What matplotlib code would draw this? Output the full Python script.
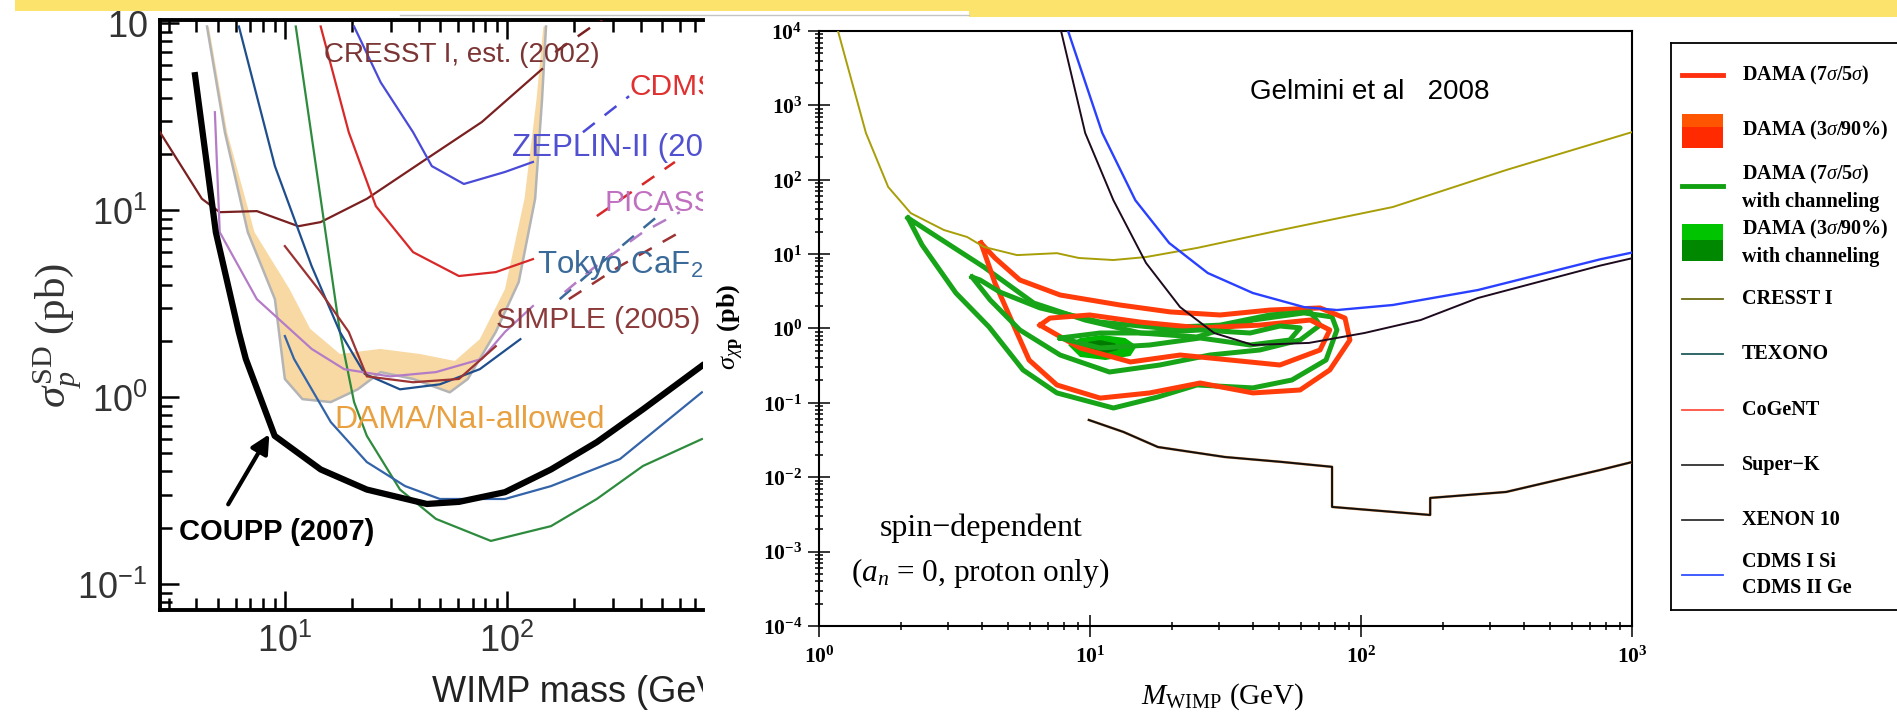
import numpy as np
import matplotlib.pyplot as plt
from matplotlib.patches import Rectangle
from matplotlib.lines import Line2D
from matplotlib.ticker import LogLocator, FuncFormatter, NullFormatter

plt.rcParams['mathtext.fontset'] = 'custom'
plt.rcParams['mathtext.rm'] = 'Liberation Sans'
plt.rcParams['mathtext.it'] = 'Liberation Serif:italic'
plt.rcParams['mathtext.bf'] = 'Liberation Serif:bold'

# ---------------- left panel (COUPP plot) ----------------
coupp_x = [3.94, 4.89, 6.2, 6.67, 9.0, 14.5, 23.4, 43.6, 60.8, 98, 158, 254, 410, 755]
coupp_y = [52.7, 7.6, 2.23, 1.6, 0.62, 0.41, 0.32, 0.268, 0.275, 0.31, 0.41, 0.574, 0.86, 1.47]

dama_out_x = [4.46, 5.37, 6.81, 9.02, 10.0, 12.0, 16.1, 21.3, 27.0, 37.8, 55.3, 66.7, 89.1, 113, 134, 144, 150]
dama_out_y = [96, 26.1, 7.62, 3.34, 1.25, 0.975, 0.94, 1.10, 1.36, 1.25, 1.06, 1.25, 2.23, 4.12, 11.5, 39.3, 96]
dama_in_x = [4.55, 5.5, 7.3, 10.5, 13.0, 17.7, 26.8, 40.6, 58.3, 75.5, 98, 120, 136, 146]
dama_in_y = [96, 26.1, 7.62, 3.78, 2.32, 1.70, 1.81, 1.70, 1.56, 2.04, 3.78, 11.5, 39.3, 96]

cresst_x = [2.74, 4.23, 5.09, 7.48, 11.5, 14.5, 23.4, 41.4, 77.1, 144]
cresst_y = [26.1, 11.5, 9.75, 9.88, 8.2, 8.63, 11.5, 18.1, 29.6, 56.8]
cresst_dash_x = [165, 300]
cresst_dash_y = [70, 115]

zeplin_x = [20.5, 27, 37.8, 45.9, 64, 98, 131]
zeplin_y = [96, 48.3, 26.1, 17.2, 13.8, 16, 18.1]
zeplin_dash_x = [220, 355]
zeplin_dash_y = [26.1, 40.7]

cdms_x = [14.5, 19.4, 25.7, 37.8, 60.8, 89.1, 131]
cdms_y = [96, 26.1, 10.5, 5.96, 4.44, 4.66, 5.47]
cdms_dash_x = [254, 571]
cdms_dash_y = [9.29, 18.1]

kims_x = [11.2, 17.7, 20.5, 23.4, 33, 47.9, 84.7, 158, 254, 410, 755]
kims_y = [96, 2.23, 0.94, 0.62, 0.32, 0.223, 0.17, 0.204, 0.285, 0.428, 0.596]

tokyo_x = [6.21, 9.02, 13.2, 17.7, 22.9, 33, 49.9, 75.5, 115]
tokyo_y = [96, 17.2, 5.02, 2.23, 1.33, 1.10, 1.17, 1.41, 2.04]
tokyo_dash_x = [173, 262, 489]
tokyo_dash_y = [3.34, 5.14, 9.5]

naiad_x = [10, 11, 16.1, 23.4, 34.8, 49.9, 98, 158, 323, 755]
naiad_y = [2.12, 1.6, 0.735, 0.449, 0.334, 0.285, 0.285, 0.334, 0.466, 1.06]

picasso_x = [4.84, 5.09, 7.48, 13.2, 18.5, 29.7, 47.9, 77.1, 98, 131]
picasso_y = [33.4, 7.62, 3.34, 1.81, 1.41, 1.29, 1.36, 1.6, 2.23, 3.07]
picasso_dash_x = [182, 242, 410, 601]
picasso_dash_y = [3.64, 4.84, 7.62, 9.75]

simple_x = [10, 14.5, 19.4, 23.4, 37.8, 60.8, 89.1]
simple_y = [6.42, 3.64, 2.23, 1.29, 1.2, 1.25, 1.87]
simple_dash_x = [190, 323, 601]
simple_dash_y = [3.34, 5.02, 7.62]

# ---------------- right panel (Gelmini et al 2008) ----------------
cresst1_x = [1.175, 1.49, 1.80, 2.18, 2.89, 3.52, 4.06, 5.38, 7.55, 9.1, 12.2, 16.1, 24.8, 50.7, 131, 343, 1000]
cresst1_y = [1e4, 425, 80, 35.6, 21.1, 17, 12.5, 9.7, 10.3, 8.87, 8.33, 9.14, 12.1, 21.1, 43, 135, 437]

cdms2_x = [8.3, 11.1, 14.7, 19.6, 27.2, 39.9, 61.6, 81.5, 131, 270, 762, 1000]
cdms2_y = [1e4, 425, 53, 14.1, 5.57, 3.0, 1.94, 1.77, 2.07, 3.29, 8.5, 10.5]

xenon_x = [7.82, 9.6, 12.2, 16.1, 21.5, 28.7, 39.9, 64.3, 103, 166, 270, 762, 1000]
xenon_y = [1e4, 425, 53, 7.6, 1.94, 0.87, 0.6, 0.64, 0.87, 1.3, 2.57, 7.0, 8.8]

superk_x = [9.9, 13.3, 17.8, 31.5, 50.7, 78.2, 78.2, 180, 180, 343, 762, 1000]
superk_y = [0.0589, 0.0406, 0.0255, 0.0187, 0.0161, 0.0138, 0.00399, 0.00311, 0.00527, 0.00634, 0.0125, 0.016]

g1_x = [2.13, 2.40, 3.20, 4.24, 5.66, 7.55, 12.2, 17.8, 24.8, 39.9, 55.6, 74.3, 81.5, 78.2, 61.6, 39.9, 24.8, 15.4, 9.59, 6.2, 4.06]
g1_y = [30.6, 13.3, 3.0, 1.05, 0.277, 0.136, 0.0853, 0.12, 0.174, 0.159, 0.203, 0.377, 0.955, 1.43, 1.62, 1.30, 0.769, 0.87, 1.30, 2.2, 6.7]
r1_x = [3.96, 4.46, 5.38, 5.96, 7.55, 10.9, 16.6, 25.5, 39.9, 59.6, 76.7, 91.0, 87.3, 70.6, 46.1, 30.2, 19.8, 12.9, 7.76, 5.51, 4.46]
r1_y = [14.1, 4.09, 0.87, 0.377, 0.174, 0.116, 0.136, 0.185, 0.136, 0.149, 0.277, 0.70, 1.38, 1.89, 1.77, 1.52, 1.67, 2.07, 2.82, 4.49, 8.87]
g2_x = [3.67, 4.28, 5.51, 7.76, 11.8, 18.1, 27.7, 42.3, 59.6, 70.6, 65.0, 46.1, 30.2, 18.1, 10.9, 6.54, 4.65, 3.93]
g2_y = [4.92, 2.42, 0.955, 0.44, 0.26, 0.323, 0.44, 0.514, 0.70, 1.11, 1.67, 1.52, 1.11, 1.02, 1.22, 1.89, 3.09, 4.49]
r2_x = [6.54, 9.19, 14.1, 21.5, 32.9, 50.2, 70.6, 76.7, 65.0, 42.3, 25.5, 15.3, 9.98, 7.11]
r2_y = [1.11, 0.547, 0.355, 0.44, 0.377, 0.323, 0.514, 0.955, 1.30, 1.11, 1.02, 1.22, 1.52, 1.38]
g3_x = [7.76, 10.9, 16.6, 25.5, 39.0, 54.6, 59.6, 50.2, 39.0, 25.5, 16.6, 10.9]
g3_y = [0.745, 0.547, 0.60, 0.745, 0.60, 0.70, 1.02, 1.08, 0.87, 0.955, 0.87, 0.87]
gfill_x = [8.3, 9.19, 11.1, 13.5, 14.9, 14.1, 11.4, 9.19]
gfill_y = [0.60, 0.745, 0.818, 0.745, 0.582, 0.427, 0.377, 0.414]
gcore_x = [9.84, 10.9, 12.4, 12.7, 11.1, 9.84]
gcore_y = [0.659, 0.70, 0.63, 0.514, 0.454, 0.514]

legend_labels = ['DAMA (7$\\sigma$/5$\\sigma$)', 'DAMA (3$\\sigma$/90%)',
                 'DAMA (7$\\sigma$/5$\\sigma$)\nwith channeling',
                 'DAMA (3$\\sigma$/90%)\nwith channeling',
                 'CRESST I', 'TEXONO', 'CoGeNT', 'Super\u2212K', 'XENON 10',
                 'CDMS I Si\nCDMS II Ge']

W, H = 1897, 717
fig = plt.figure(figsize=(W / 100, H / 100), dpi=100)


def box(x0, y0, x1, y1):
    return [x0 / W, 1 - y1 / H, (x1 - x0) / W, (y1 - y0) / H]


def left_fmt(v, p):
    return r'$\mathrm{10^{%d}}$' % round(np.log10(v))


def left_yfmt(v, p):
    e = round(np.log10(v))
    # the exponent of the top label is hidden under the slide banner
    return r'$\mathrm{10}$' if e >= 2 else r'$\mathrm{10^{%d}}$' % e


# ---- left ----
ax1 = fig.add_axes(box(160, 20, 703, 610))
ax1.set_xscale('log')
ax1.set_yscale('log')
ax1.set_xlim(2.74, 764)
ax1.set_ylim(0.0726, 104)
ax1.spines['right'].set_visible(False)
for s in ['left', 'bottom', 'top']:
    ax1.spines[s].set_linewidth(2.8)

ax1.fill(np.concatenate([dama_out_x, dama_in_x[::-1]]),
         np.concatenate([dama_out_y, dama_in_y[::-1]]), color='#f8d9a4', lw=0, zorder=1)
ax1.plot(dama_out_x, dama_out_y, color='#b4b4b4', lw=1.8, zorder=2)

thin = dict(lw=1.6, zorder=3)
ax1.plot(cresst_x, cresst_y, color='#7b2020', **thin)
ax1.plot(zeplin_x, zeplin_y, color='#4a4ad8', **thin)
ax1.plot(cdms_x, cdms_y, color='#d82828', **thin)
ax1.plot(kims_x, kims_y, color='#2e8b3e', **thin)
ax1.plot(tokyo_x, tokyo_y, color='#1f4e8c', **thin)
ax1.plot(naiad_x, naiad_y, color='#3363a8', **thin)
ax1.plot(picasso_x, picasso_y, color='#b47cc7', **thin)
ax1.plot(simple_x, simple_y, color='#9b3333', **thin)
dash = dict(lw=1.8, ls=(0, (6, 5)), zorder=3)
ax1.plot(cresst_dash_x, cresst_dash_y, color='#7b2020', **dash)
ax1.plot(zeplin_dash_x, zeplin_dash_y, color='#4a4ad8', **dash)
ax1.plot(cdms_dash_x, cdms_dash_y, color='#d82828', **dash)
ax1.plot(tokyo_dash_x, tokyo_dash_y, color='#3a6a9a', **dash)
ax1.plot(picasso_dash_x, picasso_dash_y, color='#b47cc7', **dash)
ax1.plot(simple_dash_x, simple_dash_y, color='#9b3333', **dash)
ax1.plot(coupp_x, coupp_y, color='black', lw=4.5, zorder=5)

lab = dict(transform=ax1.transAxes, family='Liberation Sans', size=21.5, va='center', clip_on=True)
ax1.text(0.302, 0.941, 'CRESST I, est. (2002)', color='#7b3535', **dict(lab, size=20))
ax1.text(0.864, 0.886, 'CDMS', color='#e03030', **lab)
ax1.text(0.648, 0.783, 'ZEPLIN-II (200', color='#5050d0', **dict(lab, size=22.5))
ax1.text(0.818, 0.690, 'PICASS', color='#c070c0', **lab)
ax1.text(0.694, 0.585, 'Tokyo CaF$_2$', color='#3a6a9a', **dict(lab, size=22.5))
ax1.text(0.619, 0.492, 'SIMPLE (2005)', color='#8b3a3a', **lab)
ax1.text(0.322, 0.322, 'DAMA/NaI-allowed', color='#e8a040', **dict(lab, size=23))
ax1.text(0.035, 0.132, 'COUPP (2007)', color='black', weight='bold', **dict(lab, size=21))
ax1.annotate('', xy=(0.204, 0.302), xytext=(0.123, 0.175), xycoords='axes fraction',
             arrowprops=dict(arrowstyle='-|>', lw=3, color='black', mutation_scale=28))

ax1.xaxis.set_major_locator(LogLocator(base=10, numticks=20))
ax1.yaxis.set_major_locator(LogLocator(base=10, numticks=20))
for a in (ax1.xaxis, ax1.yaxis):
    a.set_minor_locator(LogLocator(base=10, subs=np.arange(2, 10), numticks=100))
    a.set_minor_formatter(NullFormatter())
ax1.xaxis.set_major_formatter(FuncFormatter(left_fmt))
ax1.yaxis.set_major_formatter(FuncFormatter(left_yfmt))
ax1.tick_params(which='both', direction='in', top=True, right=False, width=1.8,
                labelsize=26, labelcolor='#333333', color='black')
ax1.tick_params(which='major', length=14)
ax1.tick_params(which='minor', length=8.5)
ax1.tick_params(axis='y', pad=9)
ax1.tick_params(axis='x', pad=9)

clip = Rectangle((0, 0), 703 / W, 1, transform=fig.transFigure)
t = fig.text(432 / W, 1 - 693 / H, 'WIMP mass (GeV)', family='Liberation Sans', size=26,
             color='#222222', va='center')
t.set_clip_path(clip)
fig.text(58 / W, 1 - 335 / H, r'$\sigma_p^{\mathregular{SD}}$ (pb)', rotation=90,
         family='Liberation Serif', size=31, color='#333333', ha='center', va='center')

# ---- right ----
ax2 = fig.add_axes(box(819, 31, 1632, 626))
ax2.set_xscale('log')
ax2.set_yscale('log')
ax2.set_xlim(1, 1000)
ax2.set_ylim(1e-4, 1e4)
for s in ax2.spines.values():
    s.set_linewidth(1.5)

ax2.plot(cresst1_x, cresst1_y, color='#a89e08', lw=1.4, zorder=3)
ax2.plot(cdms2_x, cdms2_y, color='#2a40ff', lw=1.7, zorder=3)
ax2.plot(xenon_x, xenon_y, color='#1e0a1e', lw=1.4, zorder=4)
ax2.plot(superk_x, superk_y, color='#d08a50', lw=1.9, zorder=3)
ax2.plot(superk_x, superk_y, color='#101010', lw=1.4, zorder=4)

ax2.fill(gfill_x, gfill_y, color='#00b800', lw=0, zorder=2)
ax2.fill(gcore_x, gcore_y, color='#007a00', lw=0, zorder=2)
cl = dict(lw=3.6, zorder=2, solid_joinstyle='round')
ax2.plot(g1_x + g1_x[:1], g1_y + g1_y[:1], color='#18a418', **cl)
ax2.plot(r1_x + r1_x[:1], r1_y + r1_y[:1], color='#ff3c0a', **cl)
ax2.plot(g2_x + g2_x[:1], g2_y + g2_y[:1], color='#18a418', **cl)
ax2.plot(r2_x + r2_x[:1], r2_y + r2_y[:1], color='#ff3c0a', **cl)
ax2.plot(g3_x + g3_x[:1], g3_y + g3_y[:1], color='#18a418', **cl)

ax2.xaxis.set_major_locator(LogLocator(base=10, numticks=20))
ax2.yaxis.set_major_locator(LogLocator(base=10, numticks=20))
for a in (ax2.xaxis, ax2.yaxis):
    a.set_minor_locator(LogLocator(base=10, subs=np.arange(2, 10), numticks=100))
    a.set_minor_formatter(NullFormatter())
    a.set_major_formatter(FuncFormatter(lambda v, p: r'$\mathbf{10^{%d}}$' % round(np.log10(v))))
ax2.tick_params(which='both', direction='inout', top=False, right=False, width=1.1,
                labelsize=15.5, color='black')
ax2.tick_params(which='major', length=16)
ax2.tick_params(which='minor', length=6)
ax2.tick_params(axis='y', pad=4)
ax2.tick_params(axis='x', pad=6)

ax2.text(0.530, 0.8975, 'Gelmini et al   2008', transform=ax2.transAxes,
         family='Liberation Sans', size=20, va='center')
ax2.text(0.199, 0.165, 'spin\u2212dependent', transform=ax2.transAxes,
         family='Liberation Serif', size=23, ha='center', va='center')
ax2.text(0.198, 0.089, r'($a_n$ = 0, proton only)', transform=ax2.transAxes,
         family='Liberation Serif', size=22.5, ha='center', va='center')

fig.text(731 / W, 1 - 327 / H, r'$\sigma_{\chi\mathregular{p}}$ (pb)', rotation=90,
         family='Liberation Serif', weight='bold', size=19, ha='center', va='center')
fig.text(1223 / W, 1 - 697 / H, r'$M_{\mathregular{WIMP}}$ (GeV)', family='Liberation Serif',
         size=21, ha='center', va='center')

# ---- legend (drawn by hand in pixel units of its own box) ----
axl = fig.add_axes(box(1671, 43, 1915, 610))
axl.set_xlim(1671, 1915)
axl.set_ylim(610, 43)
axl.set_xticks([])
axl.set_yticks([])
for s in axl.spines.values():
    s.set_linewidth(1.3)
text_y = [75, 130, 187, 242, 299, 354, 410, 465, 520, 575]
line_style = [('#ff3010', 3.5), None, ('#10a010', 3.5), None, ('#6b6b10', 1.3),
              ('#1f5a5a', 1.3), ('#ff5040', 1.3), ('#303030', 1.3), ('#303030', 1.3),
              ('#3050ff', 1.3)]
line_y = [75, 0, 186, 0, 299, 354, 410, 465, 520, 575]
for lbl, ty, st, ly in zip(legend_labels, text_y, line_style, line_y):
    axl.text(1742, ty, lbl, family='Liberation Serif', weight='bold', size=14.5,
             va='center', linespacing=1.4)
    if st is not None:
        axl.plot([1682, 1723], [ly, ly], color=st[0], lw=st[1])
axl.add_patch(Rectangle((1682, 114), 41, 13, color='#ff5500', lw=0))
axl.add_patch(Rectangle((1682, 127), 41, 21, color='#ff2a00', lw=0))
axl.add_patch(Rectangle((1682, 224), 41, 16, color='#00c400', lw=0))
axl.add_patch(Rectangle((1682, 240), 41, 21, color='#008800', lw=0))

# ---- slide banner ----
fig.add_artist(Rectangle((15 / W, 1 - 11 / H), 1, 11 / H, transform=fig.transFigure,
                         color='#fce46c', lw=0, zorder=20))
fig.add_artist(Rectangle((969 / W, 1 - 17 / H), 1, 17 / H, transform=fig.transFigure,
                         color='#fce46c', lw=0, zorder=20))
fig.add_artist(Line2D([400 / W, 969 / W], [1 - 15 / H] * 2, transform=fig.transFigure,
                      color='#c4c4c4', lw=1, zorder=20))

fig.savefig('out.png', dpi=100)
